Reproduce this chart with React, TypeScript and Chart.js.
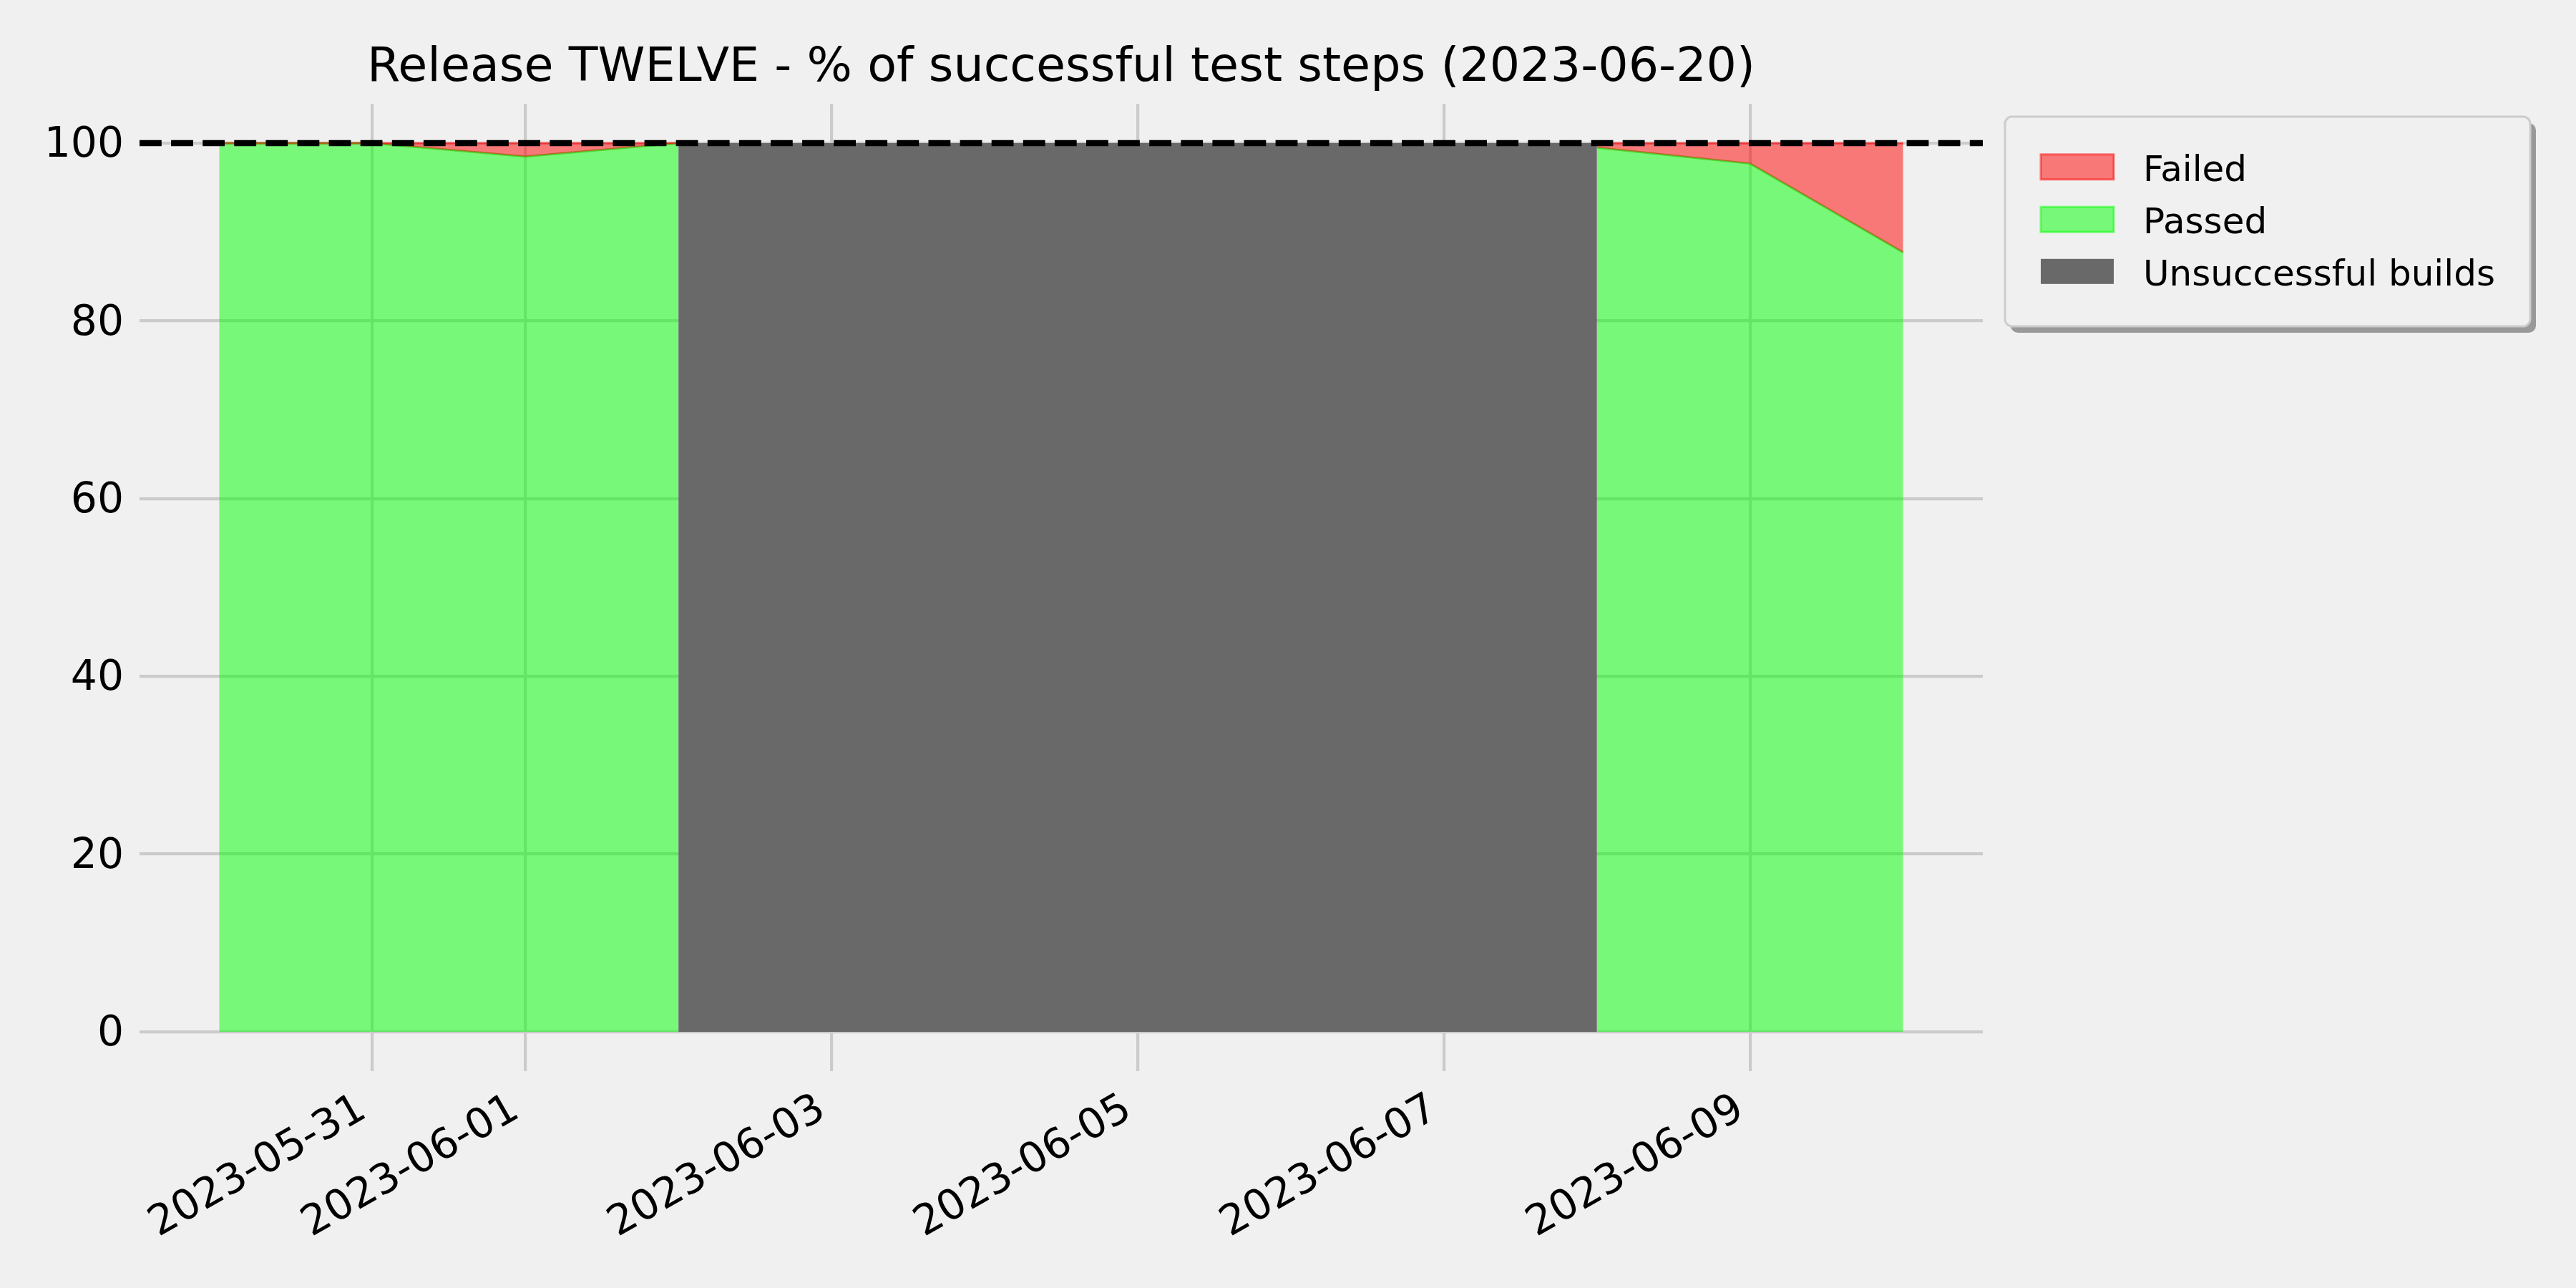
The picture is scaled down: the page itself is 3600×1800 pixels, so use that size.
import React, { useEffect, useRef } from "react";
import { Chart, registerables } from "chart.js";

Chart.register(...registerables);

// ---------- data ----------
const dates = [
  "2023-05-30", "2023-05-31", "2023-06-01", "2023-06-02", "2023-06-03", "2023-06-04",
  "2023-06-05", "2023-06-06", "2023-06-07", "2023-06-08", "2023-06-09", "2023-06-10",
];
const passed: (number | null)[] = [100, 100, 98.5, 100, null, null, null, null, null, 99.5, 97.7, 87.7];
const failed: (number | null)[] = [0, 0, 1.5, 0, null, null, null, null, null, 0.5, 2.3, 12.3];
const unsuccessful: (number | null)[] = [null, null, null, 100, 100, 100, 100, 100, 100, 100, null, null];
const xTickLabels = ["2023-05-31", "2023-06-01", "2023-06-03", "2023-06-05", "2023-06-07", "2023-06-09"];
const yTicks = [0, 20, 40, 60, 80, 100];
const targetLine = 100;
const titleText = "Release TWELVE - % of successful test steps (2023-06-20)";
const legendLabels = ["Failed", "Passed", "Unsuccessful builds"];

// ---------- style ----------
const FONT = '"DejaVu Sans", sans-serif';
const BG = "#f0f0f0";
const GRID = "#cbcbcb";
const RED_FILL = "rgba(255,0,0,0.5)";
const RED_EDGE = "rgba(255,0,0,0.5)";
const GREEN_FILL = "rgba(0,255,0,0.5)";
const GREEN_EDGE = "rgba(60,200,20,0.75)";
const GRAY = "#696969";

const X_MARGIN = 0.52;
const xMin = -X_MARGIN;
const xMax = dates.length - 1 + X_MARGIN;

const decorPlugin = {
  id: "decor",
  beforeDraw(chart: any) {
    const ctx = chart.ctx;
    ctx.save();
    ctx.fillStyle = BG;
    ctx.fillRect(0, 0, chart.width, chart.height);
    ctx.restore();
  },
  afterDraw(chart: any) {
    const ctx = chart.ctx;
    const ca = chart.chartArea;
    ctx.save();
    // title
    ctx.fillStyle = "#000";
    ctx.font = `66.7px ${FONT}`;
    ctx.textAlign = "center";
    ctx.textBaseline = "alphabetic";
    ctx.fillText(titleText, (ca.left + ca.right) / 2, 112.7);

    // legend
    const bx = 2802, by = 163, bw = 734, bh = 293, r = 10;
    ctx.fillStyle = "rgba(0,0,0,0.36)";
    ctx.beginPath();
    ctx.roundRect(bx + 8, by + 9, bw, bh, r);
    ctx.fill();
    ctx.fillStyle = BG;
    ctx.strokeStyle = "#cccccc";
    ctx.lineWidth = 3;
    ctx.beginPath();
    ctx.roundRect(bx, by, bw, bh, r);
    ctx.fill();
    ctx.stroke();

    const rows = [233.3, 306.7, 379.3];
    const fills = [RED_FILL, GREEN_FILL, GRAY];
    const edges = [RED_EDGE, GREEN_FILL, null];
    ctx.font = `50px ${FONT}`;
    ctx.textAlign = "left";
    legendLabels.forEach((lab, i) => {
      const cy = rows[i];
      ctx.fillStyle = fills[i];
      ctx.fillRect(2852, cy - 17.5, 102, 35);
      if (edges[i]) {
        ctx.strokeStyle = edges[i] as string;
        ctx.lineWidth = 3;
        ctx.strokeRect(2852, cy - 17.5, 102, 35);
      }
      ctx.fillStyle = "#000";
      ctx.fillText(lab, 2995, cy + 19.4);
    });
    ctx.restore();
  },
};

export default function App() {
  const ref = useRef<HTMLCanvasElement | null>(null);

  useEffect(() => {
    if (!ref.current) return;
    const pts = (arr: (number | null)[]) =>
      arr.map((v, i) => ({ x: i, y: v === null ? null : v }));
    const failedTop = passed.map((p, i) =>
      p === null || failed[i] === null ? null : (p as number) + (failed[i] as number)
    );

    const chart = new Chart(ref.current, {
      type: "line",
      data: {
        datasets: [
          {
            label: "target",
            data: [
              { x: xMin, y: targetLine },
              { x: xMax, y: targetLine },
            ],
            borderColor: "#000",
            borderWidth: 8.3,
            borderDash: [30.8, 13.3],
            pointRadius: 0,
            fill: false,
          },
          {
            label: legendLabels[0],
            data: pts(failedTop),
            borderColor: RED_EDGE,
            backgroundColor: RED_FILL,
            borderWidth: 3,
            pointRadius: 0,
            fill: "+1",
            spanGaps: false,
          },
          {
            label: legendLabels[1],
            data: pts(passed),
            borderColor: GREEN_EDGE,
            backgroundColor: GREEN_FILL,
            borderWidth: 3,
            pointRadius: 0,
            fill: "origin",
            spanGaps: false,
          },
          {
            label: legendLabels[2],
            data: pts(unsuccessful),
            borderColor: GRAY,
            backgroundColor: GRAY,
            borderWidth: 0,
            pointRadius: 0,
            fill: "origin",
            spanGaps: false,
          },
        ] as any,
      },
      options: {
        animation: false,
        responsive: false,
        devicePixelRatio: 1,
        layout: { padding: { left: 0, top: 145, right: 829, bottom: 0 } },
        elements: { line: { tension: 0 } },
        plugins: {
          legend: { display: false },
          title: { display: false },
          tooltip: { enabled: false },
        },
        scales: {
          x: {
            type: "linear",
            min: xMin,
            max: xMax,
            afterBuildTicks: (scale: any) => {
              scale.ticks = xTickLabels.map((l) => ({ value: dates.indexOf(l) }));
            },
            afterFit: (scale: any) => {
              scale.height = 303;
              scale.paddingLeft = 0;
              scale.paddingRight = 0;
            },
            ticks: {
              callback: (v: any) => dates[Math.round(v)] ?? "",
              minRotation: 30,
              maxRotation: 30,
              autoSkip: false,
              color: "#000",
              font: { family: FONT, size: 58.3 },
              padding: 19,
              labelOffset: -13,
            },
            grid: { color: GRID, lineWidth: 4.2, drawTicks: false },
            border: { display: false },
          },
          y: {
            type: "linear",
            min: -4.43,
            max: 104.43,
            afterBuildTicks: (scale: any) => {
              scale.ticks = yTicks.map((v) => ({ value: v }));
            },
            afterFit: (scale: any) => {
              scale.width = 195;
              scale.paddingTop = 0;
              scale.paddingBottom = 0;
            },
            ticks: {
              callback: (v: any) => String(v),
              color: "#000",
              font: { family: FONT, size: 58.3 },
              padding: 22,
              labelOffset: 4,
            },
            grid: { color: GRID, lineWidth: 4.2, drawTicks: false },
            border: { display: false },
          },
        },
      } as any,
      plugins: [decorPlugin],
    });
    return () => chart.destroy();
  }, []);

  return (
    <div style={{ position: "absolute", left: 0, top: 0, width: 3600, height: 1800, background: BG }}>
      <canvas ref={ref} width={3600} height={1800} style={{ display: "block", width: 3600, height: 1800 }} />
    </div>
  );
}
